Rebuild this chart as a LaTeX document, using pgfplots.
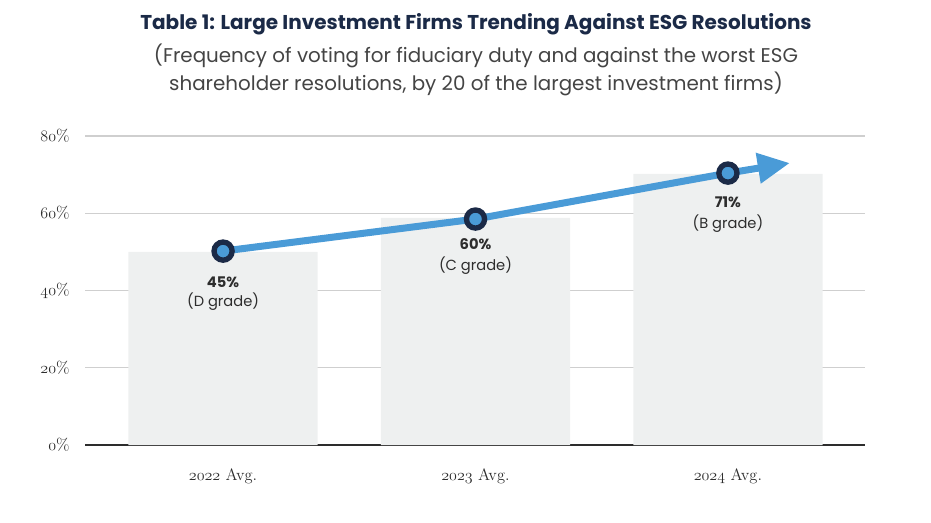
\documentclass[border=0pt]{standalone}
\usepackage{fontspec}
\usepackage{pgfplots}
\pgfplotsset{compat=1.18}
\usetikzlibrary{arrows.meta}
\newfontfamily\grot{Poppins}
\newcommand{\osn}[1]{{\usefont{OML}{lmm}{m}{it}#1}}
\definecolor{navy}{HTML}{1B2A47}
\definecolor{lineblue}{HTML}{4A9BD7}
\definecolor{barfill}{HTML}{EEF0F0}
\definecolor{gridgray}{HTML}{CFCFCF}
\definecolor{axisdark}{HTML}{2D2D2D}
\definecolor{subgray}{HTML}{444444}
\begin{document}
\begin{tikzpicture}
\useasboundingbox (0,0) rectangle (698.25pt,-392.25pt);
\node[font=\grot\bfseries\fontsize{15}{18}\selectfont, text=navy] at (357pt,-18.5pt)
  {Table 1: Large Investment Firms Trending Against ESG Resolutions};
\node[font=\grot\fontsize{14.9}{21}\selectfont, text=subgray, align=center] at (357pt,-52.5pt)
  {(Frequency of voting for fiduciary duty and against the worst ESG\\shareholder resolutions, by 20 of the largest investment firms)};
\begin{axis}[
	at = {(63.75pt,-333.75pt)},
	anchor = south west,
	scale only axis,
	width = 585pt,
	height = 231.75pt,
	xmin = -0.547, xmax = 2.543,
	ymin = 0, ymax = 80,
	ytick = {0,20,40,60,80},
	yticklabels = {\osn{0}\%, \osn{20}\%, \osn{40}\%, \osn{60}\%, \osn{80}\%},
	xtick = {0,1,2},
	xticklabels = {\osn{2022} Avg., \osn{2023} Avg., \osn{2024} Avg.},
	axis x line* = bottom,
	axis y line* = left,
	y axis line style = {draw=none},
	x axis line style = {axisdark, line width=1.3pt},
	major tick length = 0pt,
	ymajorgrids,
	grid style = {gridgray, line width=0.9pt},
	ticklabel style = {font=\fontsize{12.4}{14}\selectfont, text=axisdark},
	yticklabel style = {xshift=-8pt},
	xticklabel style = {yshift=-14pt},
	clip = false,
]
\addplot[ybar, bar width=0.75, fill=barfill, draw=none] coordinates {
	(0,50.0) (1,58.8) (2,70.2)
};
\addplot[lineblue, line width=5.25pt, -{Triangle[length=24pt,width=22pt]}] coordinates {
	(0,50.2) (1,58.5) (2,70.4) (2.245,73.0)
};
\addplot[only marks, mark=*, mark size=6.8pt, mark options={draw=navy, fill=lineblue, line width=4pt}] coordinates {
	(0,50.2) (1,58.5) (2,70.4)
};
\node[font=\grot\bfseries\fontsize{11}{13}\selectfont, text=axisdark] at (axis cs:0,50.2) [yshift=-23pt] {45\%};
\node[font=\grot\fontsize{11}{13}\selectfont, text=axisdark] at (axis cs:0,50.2) [yshift=-38pt] {(D grade)};
\node[font=\grot\bfseries\fontsize{11}{13}\selectfont, text=axisdark] at (axis cs:1,58.5) [yshift=-19pt] {60\%};
\node[font=\grot\fontsize{11}{13}\selectfont, text=axisdark] at (axis cs:1,58.5) [yshift=-35pt] {(C grade)};
\node[font=\grot\bfseries\fontsize{11}{13}\selectfont, text=axisdark] at (axis cs:2,70.4) [yshift=-22pt] {71\%};
\node[font=\grot\fontsize{11}{13}\selectfont, text=axisdark] at (axis cs:2,70.4) [yshift=-38pt] {(B grade)};
\end{axis}
\end{tikzpicture}
\end{document}
